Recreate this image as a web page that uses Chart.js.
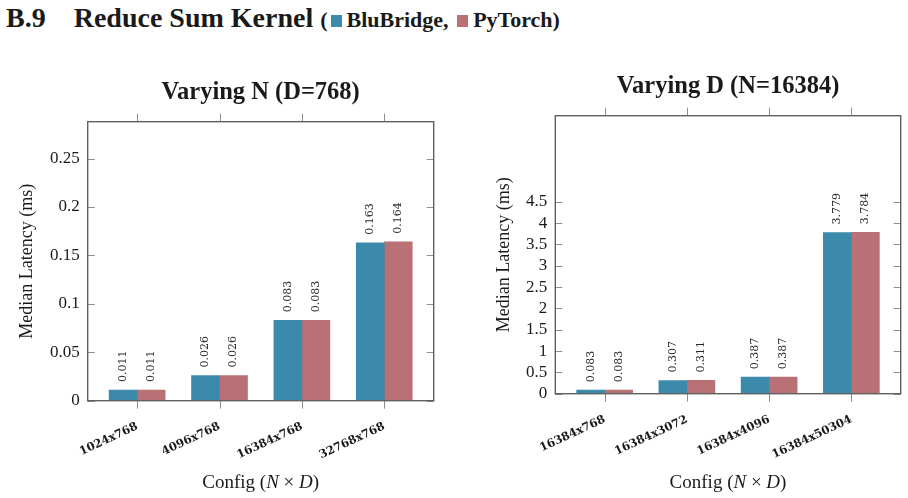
<!DOCTYPE html>
<html>
<head>
<meta charset="utf-8">
<script src="https://cdn.jsdelivr.net/npm/chart.js@4.4.1/dist/chart.umd.min.js"></script>
<style>
	html, body { margin: 0; padding: 0; background: #fff; }
	body { width: 908px; height: 498px; position: relative; overflow: hidden; font-family: "Liberation Serif", serif; color: #1a1a1a; }
	#head { position: absolute; left: 6px; top: 0; font-weight: bold; font-size: 28px; line-height: 36px; white-space: nowrap; }
	#head .num { margin-right: 28px; }
	#head .leg { font-size: 22px; }
	.sw { display: inline-block; width: 11px; height: 12px; margin: 0 5px 0 3px; }
	canvas { position: absolute; top: 0; }
</style>
</head>
<body>
<div id="head"><span class="num">B.9</span>Reduce Sum Kernel <span class="leg">(<span class="sw" style="background:#3b8aab"></span>BluBridge, <span class="sw" style="background:#b97175"></span>PyTorch)</span></div>
<canvas id="chartN" width="454" height="498" style="left:0"></canvas>
<canvas id="chartD" width="454" height="498" style="left:454px"></canvas>
<script>
	// Varying N (D=768)
	const configsN = ["1024x768", "4096x768", "16384x768", "32768x768"];
	const bluBridgeN = [0.011, 0.026, 0.083, 0.163];
	const pyTorchN = [0.011, 0.026, 0.083, 0.164];
	const yTicksN = [0, 0.05, 0.1, 0.15, 0.2, 0.25];
	const yMaxN = 0.288;

	// Varying D (N=16384)
	const configsD = ["16384x768", "16384x3072", "16384x4096", "16384x50304"];
	const bluBridgeD = [0.083, 0.307, 0.387, 3.779];
	const pyTorchD = [0.083, 0.311, 0.387, 3.784];
	const yTicksD = [0, 0.5, 1, 1.5, 2, 2.5, 3, 3.5, 4, 4.5];
	const yMaxD = 6.52;

	const BLUE = "#3b8aab";
	const RED = "#b97175";
	const SERIF = "'Liberation Serif', serif";
	const SMALL = "'DejaVu Serif', serif";

	Chart.defaults.font.family = SERIF;
	Chart.defaults.color = "#1a1a1a";

	function drawXTitle(ctx, cx, cy) {
		const parts = [["Config (", ""], ["N", "italic "], [" \u00d7 ", ""], ["D", "italic "], [")", ""]];
		let total = 0;
		parts.forEach((p) => {
			ctx.font = p[1] + "19px " + SERIF;
			total += ctx.measureText(p[0]).width;
		});
		let x = cx - total / 2;
		ctx.textAlign = "left";
		ctx.textBaseline = "middle";
		parts.forEach((p) => {
			ctx.font = p[1] + "19px " + SERIF;
			ctx.fillText(p[0], x, cy);
			x += ctx.measureText(p[0]).width;
		});
	}

	const framePlugin = {
		id: "frame",
		afterDatasetsDraw(chart, args, opts) {
			const { ctx, chartArea: a, scales: { x, y } } = chart;
			ctx.save();

			ctx.strokeStyle = "#8e8e8e";
			ctx.lineWidth = 1;
			ctx.beginPath();
			x.ticks.forEach((t) => {
				const px = Math.round(x.getPixelForValue(t.value)) + 0.5;
				ctx.moveTo(px, a.bottom);
				ctx.lineTo(px, a.bottom + 8);
				ctx.moveTo(px, a.top - 8);
				ctx.lineTo(px, a.top);
			});
			y.ticks.forEach((t) => {
				const py = Math.round(y.getPixelForValue(t.value)) + 0.5;
				ctx.moveTo(a.left, py);
				ctx.lineTo(a.left + 7, py);
				ctx.moveTo(a.right - 7, py);
				ctx.lineTo(a.right, py);
			});
			ctx.stroke();

			ctx.strokeStyle = "#606060";
			ctx.lineWidth = 1.4;
			ctx.strokeRect(a.left, a.top, a.right - a.left, a.bottom - a.top);

			// value labels above bars
			ctx.fillStyle = "#2a2a2a";
			ctx.font = "11px " + SMALL;
			ctx.textAlign = "left";
			ctx.textBaseline = "middle";
			chart.data.datasets.forEach((ds, i) => {
				chart.getDatasetMeta(i).data.forEach((bar, j) => {
					ctx.save();
					ctx.translate(bar.x, bar.y - 8);
					ctx.rotate(-Math.PI / 2);
					ctx.fillText(ds.data[j].y.toFixed(3), 0, 0);
					ctx.restore();
				});
			});

			// chart title, centred on the plot box
			ctx.fillStyle = "#1a1a1a";
			ctx.font = "bold 24.5px " + SERIF;
			ctx.textAlign = "center";
			ctx.textBaseline = "middle";
			ctx.fillText(opts.title, (a.left + a.right) / 2, a.top - 29);

			drawXTitle(ctx, (a.left + a.right) / 2, 483);
			ctx.restore();
		}
	};

	function renderChart(canvas, spec) {
		const points = (values) => values.map((v, i) => ({ x: i, y: v }));

		return new Chart(canvas, {
			type: "bar",
			data: {
				datasets: [
					{ label: "BluBridge", data: points(spec.blu), backgroundColor: BLUE },
					{ label: "PyTorch", data: points(spec.pt), backgroundColor: RED }
				]
			},
			plugins: [framePlugin],
			options: {
				responsive: false,
				animation: false,
				barThickness: 28,
				layout: { padding: { left: 0, right: spec.padRight, top: spec.top, bottom: 0 } },
				plugins: {
					legend: { display: false },
					tooltip: { enabled: false },
					title: { display: false },
					frame: { title: spec.title }
				},
				scales: {
					x: {
						type: "linear",
						offset: false,
						min: -0.6,
						max: 3.6,
						afterBuildTicks: (scale) => { scale.ticks = spec.configs.map((_, i) => ({ value: i })); },
						afterFit: (scale) => { scale.height = spec.xHeight; },
						grid: { display: false, drawTicks: false },
						border: { display: false },
						ticks: {
							autoSkip: false,
							minRotation: 25,
							maxRotation: 25,
							padding: 19,
							color: "#1a1a1a",
							font: { size: 11.5, weight: "bold", family: SMALL },
							callback: (value) => spec.configs[value] ?? ""
						}
					},
					y: {
						min: 0,
						max: spec.yMax,
						afterBuildTicks: (scale) => { scale.ticks = spec.yTicks.map((v) => ({ value: v })); },
						afterFit: (scale) => { scale.width = spec.yWidth; },
						grid: { display: false, drawTicks: false },
						border: { display: false },
						ticks: {
							padding: 8,
							font: { size: 17 },
							callback: (value) => String(value)
						},
						title: {
							display: true,
							text: "Median Latency (ms)",
							font: { size: 18 },
							padding: { top: spec.yTitlePad, bottom: 0 }
						}
					}
				}
			}
		});
	}

	renderChart(document.getElementById("chartN"), {
		title: "Varying N (D=768)",
		configs: configsN, blu: bluBridgeN, pt: pyTorchN,
		yTicks: yTicksN, yMax: yMaxN,
		padRight: 20.3, top: 121.7, xHeight: 97.3, yWidth: 87.7, yTitlePad: 16.5
	});

	renderChart(document.getElementById("chartD"), {
		title: "Varying D (N=16384)",
		configs: configsD, blu: bluBridgeD, pt: pyTorchD,
		yTicks: yTicksD, yMax: yMaxD,
		padRight: 7.3, top: 115.7, xHeight: 104.3, yWidth: 101.3, yTitlePad: 39
	});
</script>
</body>
</html>
